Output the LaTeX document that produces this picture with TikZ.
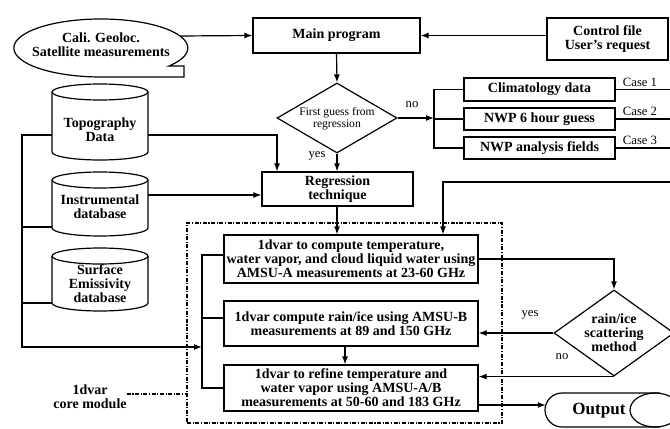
\documentclass[tikz,border=0pt]{standalone}
\usepackage{fontspec}
\setmainfont{Liberation Serif}
\usetikzlibrary{arrows.meta,shapes.geometric,calc}
\tikzset{
  ln/.style={line width=0.9pt},
  arr/.style={ln, -{Latex[length=6pt,width=4.5pt]}},
  box/.style={ln, draw, rectangle, inner sep=0pt, align=center, font=\bfseries\fontsize{10.5}{10.5}\selectfont},
  txt/.style={inner sep=0pt, align=center, font=\bfseries\fontsize{10.5}{10.5}\selectfont},
  smalltxt/.style={inner sep=0pt, align=center, font=\fontsize{8.7}{8.9}\selectfont},
  lbl/.style={inner sep=0pt, font=\fontsize{9.5}{9.5}\selectfont},
  dia/.style={ln, draw, diamond, inner sep=0pt},
  dashdot/.style={line width=0.9pt, dash pattern=on 3pt off 1.2pt on 0.8pt off 1.2pt},
}
\newcommand\mycyl[3]{%
  \draw[ln] (#1-48,#2) -- (#1-48,#3) arc[start angle=180,end angle=360,x radius=36pt,y radius=6pt] -- (#1+48,#2);
  \draw[ln] (#1,#2) ellipse[x radius=36pt,y radius=6pt];}
\begin{document}
\begin{tikzpicture}[x=0.75pt,y=-0.75pt]
\useasboundingbox (0,0) rectangle (670,428);
\clip (0,0) rectangle (670,428);

% callout
\draw[ln] (169,66) arc[start angle=-38.4,end angle=270,x radius=65.25pt,y radius=21.75pt]
  -- (184,77) -- (184,66) -- cycle;
\node[txt] (cali) at (101,45) {Cali. Geoloc.\\Satellite measurements};
\coordinate (caliout) at (180,36);

% top row
\node[box, minimum width=167*0.75pt, minimum height=35*0.75pt] (main) at (336.5,35.5) {Main program};
\node[box, minimum width=121*0.75pt, minimum height=42*0.75pt] (control) at (607.5,39) {Control file\\User's request};

% first guess diamond
\node[dia, minimum width=120*0.75pt, minimum height=70*0.75pt] (fg) at (337,118) {};
\node[smalltxt] (fgt) at (337,119) {First guess from\\regression};

% first-guess sources
\node[box, minimum width=151*0.75pt, minimum height=23*0.75pt] (clim) at (539.5,89.5) {Climatology data};
\node[box, minimum width=151*0.75pt, minimum height=22*0.75pt] (nwp6) at (539.5,119) {NWP 6 hour guess};
\node[box, minimum width=151*0.75pt, minimum height=22*0.75pt] (nwpa) at (539.5,148) {NWP analysis fields};
\node[lbl] (c1) at (640,82) {Case 1};
\node[lbl] (c2) at (640,111) {Case 2};
\node[lbl] (c3) at (640,140) {Case 3};
\coordinate (redge) at (672,0);
\coordinate (brk) at (434,0);

% regression
\node[box, minimum width=151*0.75pt, minimum height=34*0.75pt] (reg) at (337.5,189) {Regression\\technique};

% databases
\mycyl{100}{92}{152}
\node[txt] (topo) at (100,130) {Topography\\Data};
\mycyl{100}{180}{228}
\node[txt] (instr) at (100,207) {Instrumental\\database};
\mycyl{100}{256}{303}
\node[txt] (surf) at (100,284) {Surface\\Emissivity\\database};
\coordinate (topoW) at (52,135);
\coordinate (topoE) at (148,135);
\coordinate (instrE) at (148,195);
\coordinate (instrW) at (52,227);
\coordinate (surfW) at (52,303);
\coordinate (buscorner) at (22,347);
\coordinate (regx) at (277,0);

% core module frame
\node[dashdot, draw, minimum width=315*0.75pt, minimum height=200*0.75pt, inner sep=0pt] (frame) at (344.5,323) {};
\node[txt] (core) at (90,397) {1dvar\\core module};

% 1dvar boxes
\node[box, minimum width=254*0.75pt, minimum height=48*0.75pt] (box1) at (351,259) {1dvar to compute temperature,\\water vapor, and cloud liquid water using\\AMSU-A measurements at 23-60 GHz};
\node[box, minimum width=254*0.75pt, minimum height=45*0.75pt] (box2) at (351,323.5) {1dvar compute rain/ice using AMSU-B\\measurements at 89 and 150 GHz};
\node[box, minimum width=254*0.75pt, minimum height=46*0.75pt] (box3) at (351,388) {1dvar to refine temperature and\\water vapor using AMSU-A/B\\measurements at 50-60 and 183 GHz};
\coordinate (b1) at (202,255);
\coordinate (b2) at (202,318);
\coordinate (b3) at (202,388);
\coordinate (bk) at (202,347);
\coordinate (x345) at (345,0);
\coordinate (feed) at (672,182);
\coordinate (feedx) at (443,0);

% rain/ice diamond
\node[dia, minimum width=120*0.75pt, minimum height=86*0.75pt] (rain) at (614,333) {};
\node[txt] (raint) at (614,333) {rain/ice\\scattering\\method};

% output
\draw[ln] (660,393) -- (562,393) arc[start angle=90,end angle=270,radius=12.75pt] -- (660,427);
\draw[ln] (655,410) ellipse[x radius=18.75pt,y radius=12.75pt];
\node[inner sep=0pt, font=\bfseries\fontsize{12.8}{12.8}\selectfont] (out) at (599,411) {Output};
\coordinate (outin) at (545.8,405);

% labels
\node[lbl] (no1) at (412,105) {no};
\node[lbl] (yes1) at (317,156) {yes};
\node[lbl] (yes2) at (530,315) {yes};
\node[lbl] (no2) at (562,357) {no};

% connectors
\draw[arr] (caliout) -- (main.west);
\draw[arr] (main.east -| control.west) -- (main.east);
\draw[arr] (main.south) -- (fg.north);
\draw[arr] (fg.east) -- (fg.east -| brk);
\draw[ln] (clim.west) -- (clim.west -| brk) -- (nwpa.west -| brk) -- (nwpa.west);
\draw[ln] (nwp6.west) -- (nwp6.west -| brk);
\draw[ln] (clim.east) -- (clim.east -| redge);
\draw[ln] (nwp6.east) -- (nwp6.east -| redge);
\draw[ln] (nwpa.east) -- (nwpa.east -| redge);
\draw[arr] (fg.south) -- (reg.north -| fg.south);
\draw[arr] (topoE) -| (reg.north -| regx);
\draw[arr] (instrE) -- (instrE -| reg.west);
\draw[arr] (reg.south -| fg.south) -- (box1.north -| fg.south);
\draw[arr] (feed) -| (box1.north -| feedx);
\draw[arr] (topoW) -| (buscorner) -- (bk);
\draw[ln] (instrW) -- (instrW -| buscorner);
\draw[ln] (surfW) -- (surfW -| buscorner);
\draw[ln] (b1 -| box1.west) -- (b1) -- (b3) -- (b3 -| box3.west);
\draw[ln] (b2) -- (b2 -| box2.west);
\draw[arr] (box2.south -| x345) -- (box3.north -| x345);
\draw[arr] (box1.east) -| (rain.north);
\draw[arr] (rain.west) -- (rain.west -| box2.east);
\draw[arr] (rain.south) -- (rain.south -| box3.east);
\draw[arr] (outin -| box3.east) -- (outin);
\draw[dashdot] (core.east |- 0,394) -- (frame.west |- 0,394);
\end{tikzpicture}
\end{document}
